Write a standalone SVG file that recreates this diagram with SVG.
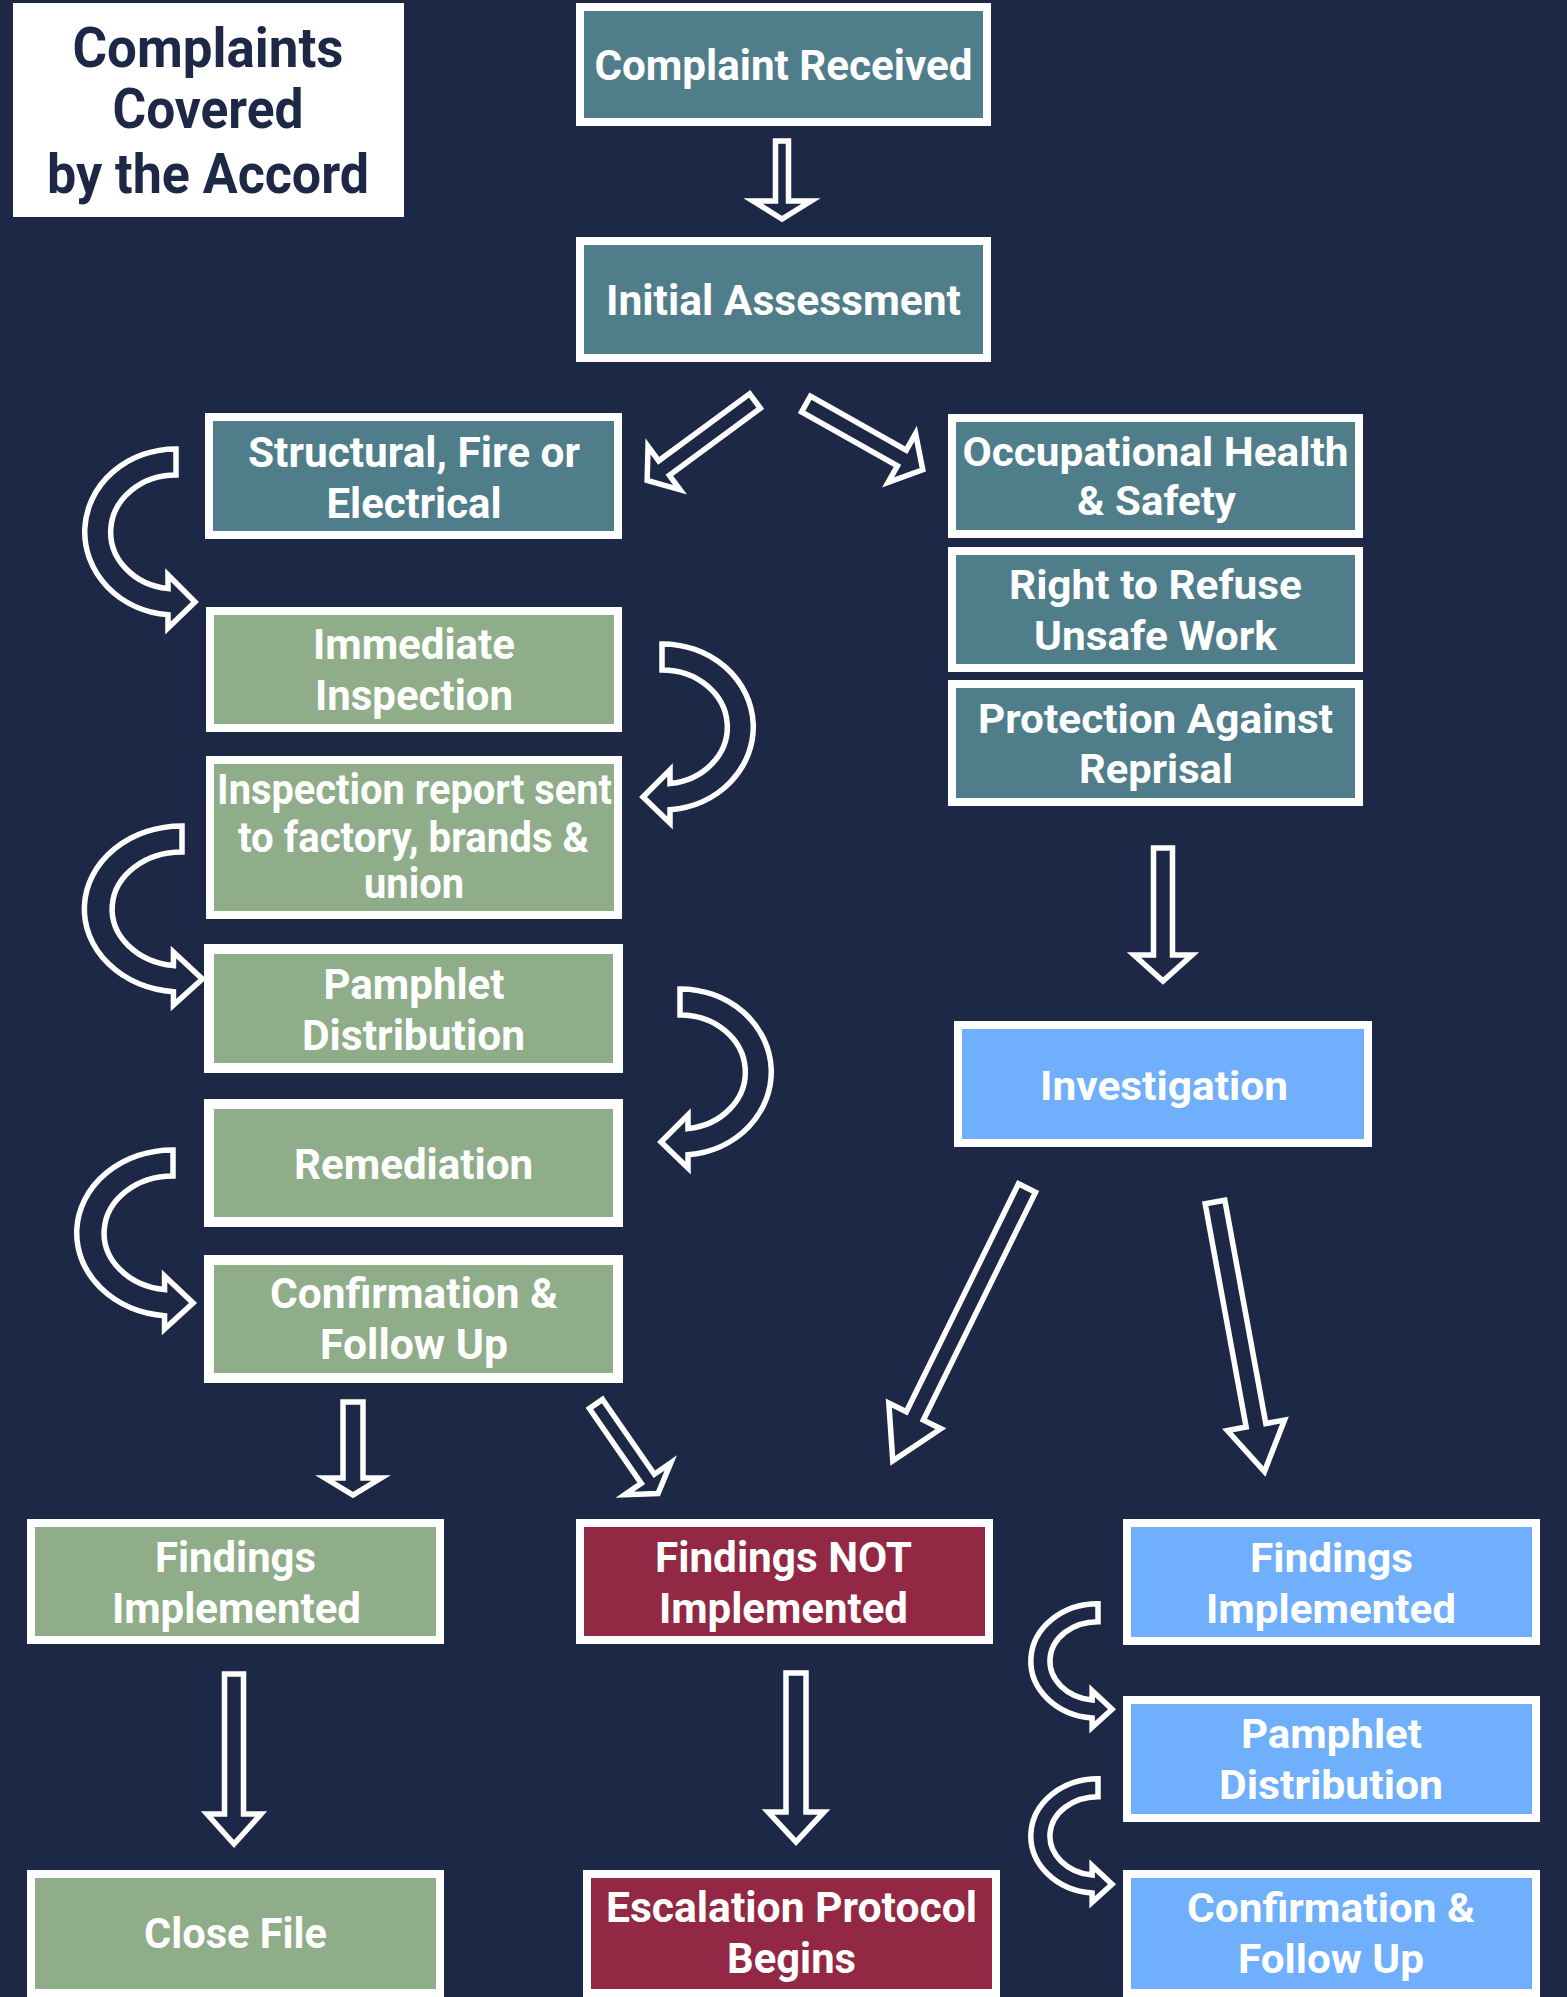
<svg xmlns="http://www.w3.org/2000/svg" xmlns:xlink="http://www.w3.org/1999/xlink" width="1567" height="1997" viewBox="0 0 1567 1997">
<style>
.bg{fill:#1c2845}
.box{stroke:#ffffff;stroke-width:8}
.thick{stroke-width:10}
.teal{fill:#4f7d8a}
.green{fill:#8fad89}
.red{fill:#922843}
.blue{fill:#70affc}
.t{font-family:Roboto,"Liberation Sans",sans-serif;font-weight:bold;font-size:40px;fill:#ffffff;text-anchor:middle}
.c{font-size:42px}
.title{font-family:Roboto,"Liberation Sans",sans-serif;font-weight:bold;font-size:56px;fill:#1c2845;text-anchor:middle}
.arr{fill:#1c2845;stroke:#ffffff;stroke-width:5.5;stroke-linejoin:miter}
.carr{fill:#1c2845;stroke:#ffffff;stroke-width:5.5;stroke-linejoin:miter;vector-effect:non-scaling-stroke}
</style>
<defs>
<path id="curve" class="carr" d="M0,-83 A91,83 0 0 0 -8,82.7 L-8,96 L19,70 L-8,43 L-8,56.6 A65,57 0 0 1 0,-57 Z"/>
</defs>
<rect class="bg" x="0" y="0" width="1567" height="1997"/>

<g id="connectors">
<g transform="translate(782,141) rotate(90)"><path class="arr" d="M0,-6.5 L60,-6.5 L60,-29 L78,0 L60,29 L60,6.5 L0,6.5 Z"/></g>
<g transform="translate(755,401) rotate(143.6)"><path class="arr" d="M0,-9 L113,-9 L113,-27 L134,0 L113,27 L113,9 L0,9 Z"/></g>
<g transform="translate(806,404) rotate(29.4)"><path class="arr" d="M0,-9 L110,-9 L110,-28 L134,0 L110,28 L110,9 L0,9 Z"/></g>
<g transform="translate(1163,848) rotate(90)"><path class="arr" d="M0,-9.5 L107,-9.5 L107,-29 L133,0 L107,29 L107,9.5 L0,9.5 Z"/></g>
<g transform="translate(1027,1188) rotate(116.2)"><path class="arr" d="M0,-9.5 L254,-9.5 L254,-29 L304,0 L254,29 L254,9.5 L0,9.5 Z"/></g>
<g transform="translate(1215,1202) rotate(79.6)"><path class="arr" d="M0,-10 L227,-10 L227,-29 L274,0 L227,29 L227,10 L0,10 Z"/></g>
<g transform="translate(353,1402) rotate(90)"><path class="arr" d="M0,-10 L76,-10 L76,-28 L93,0 L76,28 L76,10 L0,10 Z"/></g>
<g transform="translate(596,1404) rotate(55.3)"><path class="arr" d="M0,-8 L91,-8 L91,-28 L109,0 L91,28 L91,8 L0,8 Z"/></g>
<g transform="translate(234,1674) rotate(90)"><path class="arr" d="M0,-9.5 L140,-9.5 L140,-27 L170,0 L140,27 L140,9.5 L0,9.5 Z"/></g>
<g transform="translate(796,1673) rotate(90)"><path class="arr" d="M0,-10 L139,-10 L139,-28 L169,0 L139,28 L139,10 L0,10 Z"/></g>
<use xlink:href="#curve" href="#curve" transform="translate(176,532)"/>
<use xlink:href="#curve" href="#curve" transform="translate(182,909) scale(1.07,1)"/>
<use xlink:href="#curve" href="#curve" transform="translate(173,1233) scale(1.055,1)"/>
<use xlink:href="#curve" href="#curve" transform="translate(662,727) scale(-1,1)"/>
<use xlink:href="#curve" href="#curve" transform="translate(680,1072) scale(-1,1)"/>
<use xlink:href="#curve" href="#curve" transform="translate(1098,1661) scale(0.736,0.69)"/>
<use xlink:href="#curve" href="#curve" transform="translate(1098,1836) scale(0.736,0.69)"/>
</g>

<g id="title">
<rect x="13" y="3" width="391" height="214" fill="#ffffff"/>
<text class="title" x="208" y="67" textLength="271" lengthAdjust="spacingAndGlyphs">Complaints</text>
<text class="title" x="208" y="128" textLength="191" lengthAdjust="spacingAndGlyphs">Covered</text>
<text class="title" x="208" y="193" textLength="322" lengthAdjust="spacingAndGlyphs">by the Accord</text>
</g>

<g id="complaint-received">
<rect class="box teal" x="580" y="7" width="407" height="115"/>
<text class="t c" x="783.5" y="80" textLength="378" lengthAdjust="spacingAndGlyphs">Complaint Received</text>
</g>
<g id="initial-assessment">
<rect class="box teal" x="580" y="241" width="407" height="117"/>
<text class="t c" x="783.5" y="315" textLength="355" lengthAdjust="spacingAndGlyphs">Initial Assessment</text>
</g>
<g id="structural">
<rect class="box teal" x="209" y="417" width="409" height="118"/>
<text class="t c" x="414" y="467" textLength="332" lengthAdjust="spacingAndGlyphs">Structural, Fire or</text>
<text class="t c" x="414" y="518" textLength="175" lengthAdjust="spacingAndGlyphs">Electrical</text>
</g>
<g id="occupational">
<rect class="box teal" x="952" y="418" width="407" height="116"/>
<text class="t" x="1155.5" y="466" textLength="386" lengthAdjust="spacingAndGlyphs">Occupational Health</text>
<text class="t" x="1156.5" y="515" textLength="159" lengthAdjust="spacingAndGlyphs">&amp; Safety</text>
</g>
<g id="right-to-refuse">
<rect class="box teal" x="952" y="551" width="407" height="117"/>
<text class="t" x="1155.5" y="599" textLength="293" lengthAdjust="spacingAndGlyphs">Right to Refuse</text>
<text class="t" x="1155.5" y="650" textLength="243" lengthAdjust="spacingAndGlyphs">Unsafe Work</text>
</g>
<g id="protection">
<rect class="box teal" x="952" y="684" width="407" height="118"/>
<text class="t" x="1155.5" y="733" textLength="355" lengthAdjust="spacingAndGlyphs">Protection Against</text>
<text class="t" x="1156" y="783" textLength="154" lengthAdjust="spacingAndGlyphs">Reprisal</text>
</g>
<g id="immediate-inspection">
<rect class="box green" x="210" y="611" width="408" height="117"/>
<text class="t c" x="414" y="659" textLength="202" lengthAdjust="spacingAndGlyphs">Immediate</text>
<text class="t c" x="414" y="710" textLength="198" lengthAdjust="spacingAndGlyphs">Inspection</text>
</g>
<g id="inspection-report">
<rect class="box green" x="210" y="760" width="408" height="155"/>
<text class="t c" x="414.5" y="804" textLength="395" lengthAdjust="spacingAndGlyphs">Inspection report sent</text>
<text class="t c" x="413.5" y="852" textLength="351" lengthAdjust="spacingAndGlyphs">to factory, brands &amp;</text>
<text class="t c" x="414" y="898" textLength="100" lengthAdjust="spacingAndGlyphs">union</text>
</g>
<g id="pamphlet-green">
<rect class="box thick green" x="209" y="949" width="409" height="119"/>
<text class="t c" x="414" y="999" textLength="181" lengthAdjust="spacingAndGlyphs">Pamphlet</text>
<text class="t c" x="413.5" y="1050" textLength="223" lengthAdjust="spacingAndGlyphs">Distribution</text>
</g>
<g id="remediation">
<rect class="box thick green" x="209" y="1104" width="409" height="118"/>
<text class="t c" x="413.5" y="1179" textLength="239" lengthAdjust="spacingAndGlyphs">Remediation</text>
</g>
<g id="confirmation-green">
<rect class="box thick green" x="209" y="1260" width="409" height="118"/>
<text class="t c" x="414" y="1308" textLength="288" lengthAdjust="spacingAndGlyphs">Confirmation &amp;</text>
<text class="t c" x="414" y="1359" textLength="188" lengthAdjust="spacingAndGlyphs">Follow Up</text>
</g>
<g id="investigation">
<rect class="box blue" x="958" y="1025" width="410" height="118"/>
<text class="t" x="1164" y="1100" textLength="248" lengthAdjust="spacingAndGlyphs">Investigation</text>
</g>
<g id="findings-implemented-green">
<rect class="box green" x="31" y="1523" width="409" height="117"/>
<text class="t c" x="235.5" y="1572" textLength="161" lengthAdjust="spacingAndGlyphs">Findings</text>
<text class="t c" x="236.5" y="1623" textLength="249" lengthAdjust="spacingAndGlyphs">Implemented</text>
</g>
<g id="findings-not-implemented">
<rect class="box red" x="580" y="1523" width="409" height="117"/>
<text class="t c" x="783.5" y="1572" textLength="257" lengthAdjust="spacingAndGlyphs">Findings NOT</text>
<text class="t c" x="783.5" y="1623" textLength="249" lengthAdjust="spacingAndGlyphs">Implemented</text>
</g>
<g id="findings-implemented-blue">
<rect class="box blue" x="1127" y="1523" width="409" height="118"/>
<text class="t" x="1331.5" y="1572" textLength="163" lengthAdjust="spacingAndGlyphs">Findings</text>
<text class="t" x="1331" y="1623" textLength="250" lengthAdjust="spacingAndGlyphs">Implemented</text>
</g>
<g id="pamphlet-blue">
<rect class="box blue" x="1127" y="1700" width="409" height="118"/>
<text class="t" x="1331.5" y="1748" textLength="181" lengthAdjust="spacingAndGlyphs">Pamphlet</text>
<text class="t" x="1331" y="1799" textLength="224" lengthAdjust="spacingAndGlyphs">Distribution</text>
</g>
<g id="confirmation-blue">
<rect class="box blue" x="1127" y="1874" width="409" height="119"/>
<text class="t" x="1331" y="1922" textLength="288" lengthAdjust="spacingAndGlyphs">Confirmation &amp;</text>
<text class="t" x="1331" y="1973" textLength="186" lengthAdjust="spacingAndGlyphs">Follow Up</text>
</g>
<g id="close-file">
<rect class="box green" x="31" y="1874" width="409" height="119"/>
<text class="t c" x="235.5" y="1948" textLength="183" lengthAdjust="spacingAndGlyphs">Close File</text>
</g>
<g id="escalation">
<rect class="box red" x="587" y="1874" width="409" height="119"/>
<text class="t c" x="791.5" y="1922" textLength="371" lengthAdjust="spacingAndGlyphs">Escalation Protocol</text>
<text class="t c" x="791.5" y="1973" textLength="129" lengthAdjust="spacingAndGlyphs">Begins</text>
</g>
</svg>
